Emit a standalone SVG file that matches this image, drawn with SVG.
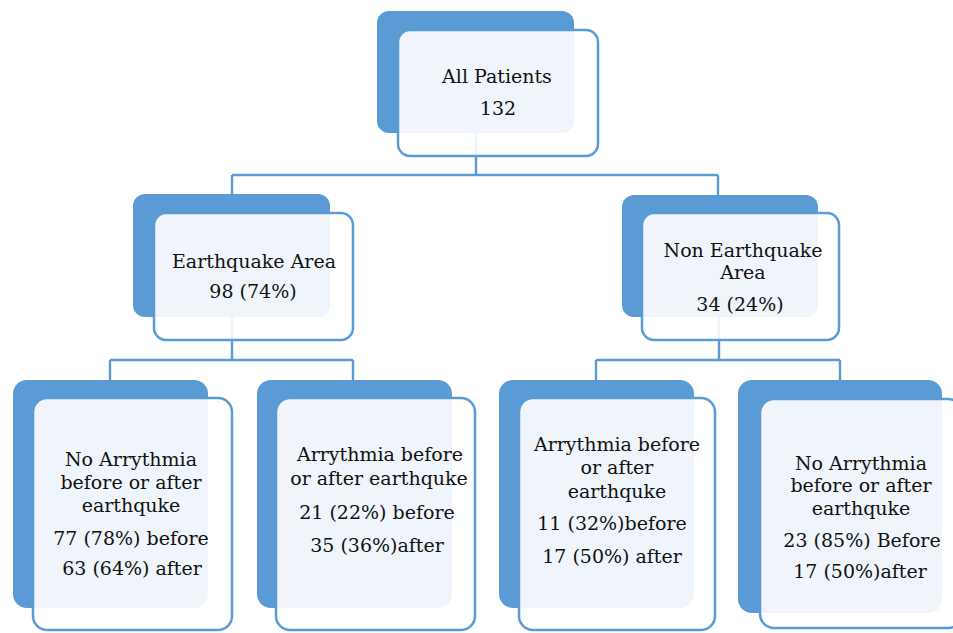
<svg xmlns="http://www.w3.org/2000/svg" width="953" height="633" viewBox="0 0 953 633">
<style>
.back{fill:#5b9bd5;}
.front{fill:#ffffff;fill-opacity:0.9;stroke:#5b9bd5;stroke-width:2.5;}
.conn{fill:none;stroke:#5b9bd5;stroke-width:2.4;}
text{font-family:"DejaVu Serif","Liberation Serif",serif;font-size:19px;fill:#111111;text-anchor:middle;}
</style>
<rect width="953" height="633" fill="#ffffff"/>
<g id="connectors">
<path class="conn" d="M476 133 V175 M232 175 H718 M232 175 V194 M718 175 V195"/>
<path class="conn" d="M232 317 V360 M110 360 H353 M110 360 V380 M353 360 V380"/>
<path class="conn" d="M719 317 V360 M596 360 H840 M596 360 V380 M840 360 V380"/>
</g>
<g id="all-patients">
<rect class="back" x="377" y="11" width="197" height="122" rx="12"/>
<rect class="front" x="398" y="30" width="200" height="126" rx="12"/>
<text x="497" y="83">All Patients</text>
<text x="498" y="115">132</text>
</g>
<g id="earthquake-area">
<rect class="back" x="133" y="194" width="197" height="123" rx="12"/>
<rect class="front" x="154" y="213" width="199" height="127" rx="12"/>
<text x="254" y="268">Earthquake Area</text>
<text x="253" y="298">98 (74%)</text>
</g>
<g id="non-earthquake-area">
<rect class="back" x="622" y="195" width="196" height="122" rx="12"/>
<rect class="front" x="642" y="213" width="197" height="127" rx="12"/>
<text x="743" y="257">Non Earthquake</text>
<text x="743" y="279">Area</text>
<text x="740" y="311">34 (24%)</text>
</g>
<g id="no-arr-eq">
<rect class="back" x="13" y="380" width="195" height="228" rx="14"/>
<rect class="front" x="33" y="398" width="199" height="232" rx="14"/>
<text x="131" y="466">No Arrythmia</text>
<text x="131" y="489">before or after</text>
<text x="131" y="512">earthquke</text>
<text x="131" y="545">77 (78%) before</text>
<text x="132" y="575">63 (64%) after</text>
</g>
<g id="arr-eq">
<rect class="back" x="257" y="380" width="195" height="228" rx="14"/>
<rect class="front" x="276" y="398" width="199" height="232" rx="14"/>
<text x="380" y="461">Arrythmia before</text>
<text x="379" y="485">or after earthquke</text>
<text x="377" y="519">21 (22%) before</text>
<text x="377" y="552">35 (36%)after</text>
</g>
<g id="arr-non-eq">
<rect class="back" x="499" y="380" width="195" height="228" rx="14"/>
<rect class="front" x="519" y="398" width="196" height="232" rx="14"/>
<text x="617" y="451">Arrythmia before</text>
<text x="617" y="474">or after</text>
<text x="617" y="498">earthquke</text>
<text x="612" y="530">11 (32%)before</text>
<text x="612" y="563">17 (50%) after</text>
</g>
<g id="no-arr-non-eq">
<rect class="back" x="738" y="380" width="204" height="233" rx="14"/>
<rect class="front" x="760" y="399" width="202" height="229" rx="14"/>
<text x="861" y="470">No Arrythmia</text>
<text x="861" y="492">before or after</text>
<text x="861" y="515">earthquke</text>
<text x="862" y="547">23 (85%) Before</text>
<text x="860" y="578">17 (50%)after</text>
</g>
</svg>
